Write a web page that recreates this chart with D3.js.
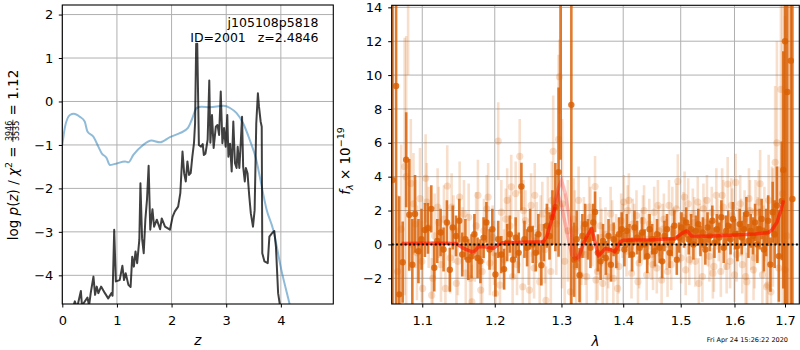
<!DOCTYPE html>
<html>
<head>
<meta charset="utf-8">
<script src="https://cdn.jsdelivr.net/npm/d3@7"></script>
<style>
  body { margin: 0; background: #fff; }
  svg { font-family: "DejaVu Sans", sans-serif; }
  text { white-space: pre; }
</style>
</head>
<body>
<svg id="chart" width="800" height="350"></svg>
<script>
// ---------- redshift panel ----------
const priorZ = [0,0.05,0.14,0.21,0.32,0.41,0.46,0.57,0.66,0.72,0.81,0.87,0.96,1.15,1.21,1.30,1.48,1.63,1.79,1.97,2.15,2.30,2.37,2.46,2.55,2.70,2.95,3.07,3.19,3.31,3.43,3.55,3.65,3.74,3.86,4.01,4.16,4.30];
const priorLogP = [-1.0,-0.58,-0.31,-0.28,-0.35,-0.46,-0.69,-0.81,-1.04,-1.19,-1.30,-1.46,-1.44,-1.38,-1.40,-1.23,-1.00,-0.90,-0.94,-0.82,-0.73,-0.61,-0.42,-0.15,-0.12,-0.13,-0.10,-0.15,-0.27,-0.50,-0.88,-1.34,-1.96,-2.49,-2.95,-3.88,-4.66,-5.40];

const pzZ = [0.18,0.23,0.27,0.34,0.36,0.46,0.49,0.52,0.57,0.60,0.63,0.66,0.71,0.78,0.84,0.90,0.92,0.95,0.98,1.05,1.10,1.13,1.16,1.21,1.25,1.28,1.31,1.34,1.37,1.41,1.43,1.46,1.49,1.52,1.55,1.58,1.61,1.65,1.68,1.73,1.79,1.82,1.88,1.97,2.02,2.06,2.12,2.16,2.20,2.23,2.26,2.29,2.32,2.35,2.38,2.41,2.43,2.45,2.46,2.47,2.50,2.54,2.57,2.59,2.62,2.66,2.69,2.71,2.74,2.77,2.81,2.84,2.87,2.90,2.93,2.96,2.99,3.02,3.04,3.07,3.10,3.13,3.16,3.19,3.21,3.24,3.26,3.29,3.31,3.34,3.36,3.39,3.42,3.45,3.49,3.52,3.55,3.58,3.60,3.63,3.65,3.66,3.70,3.76,3.79,3.84,3.88,3.91,3.95,3.98,4.05];
const pzLogP = [-4.8,-4.6,-4.75,-4.36,-4.7,-4.51,-4.7,-4.41,-4.03,-4.45,-4.26,-4.41,-4.26,-4.41,-4.53,-4.41,-4.47,-2.95,-4.14,-4.11,-3.78,-4.11,-3.95,-4.22,-4.27,-3.57,-3.80,-3.45,-3.72,-3.18,-1.88,-3.15,-3.49,-2.72,-2.26,-1.48,-2.95,-2.48,-2.88,-2.72,-2.94,-2.69,-2.88,-2.95,-2.65,-2.53,-2.42,-2.11,-1.15,-1.65,-1.84,-1.38,-1.69,-1.65,-1.27,-0.96,-0.5,1.33,0.7,1.33,-1.0,-1.04,-0.98,-1.23,-1.2,-0.88,0.48,-0.95,-0.31,-1.07,-0.58,-0.54,-0.77,0.23,-0.96,-0.61,-1.04,-0.31,-1.27,-0.97,-1.61,-0.46,-1.42,-1.53,-1.04,-1.53,-1.1,-0.35,-1.50,-1.84,-1.53,-1.65,-2.15,-2.57,-2.88,-2.5,-0.50,0.19,-0.12,-0.46,-0.58,-3.49,-3.68,-3.72,-3.11,-3.03,-2.98,-3.34,-4.41,-4.66,-5.5];

const zTicks = [0,1,2,3,4];
const logPTicks = [-4,-3,-2,-1,0,1,2];
const fitLabel = ["j105108p5818", "ID=2001   z=2.4846"];

// ---------- spectrum panel ----------
const waveTicks = [1.1,1.2,1.3,1.4,1.5,1.6,1.7];
const fluxTicks = [-2,0,2,4,6,8,10,12,14];

// primary extraction (strong)
const specWave = [1.0615,1.0660,1.0700,1.0745,1.0790,1.0830,1.0870,1.0905,1.0950,1.0990,1.1035,1.1075,1.1120,1.1160,1.1200,1.1245,1.1285,1.1330,1.1370,1.1410,1.1455,1.1500,1.1540,1.1585,1.1625,1.1670,1.1710,1.1755,1.1795,1.1840,1.1880,1.1925,1.1965,1.2010,1.2050,1.2095,1.2135,1.2180,1.2220,1.2265,1.2305,1.2350,1.2390,1.2435,1.2475,1.2520,1.2560,1.2605,1.2645,1.2690,1.2730,1.2775,1.2815,1.2860,1.2905,1.2955,1.2985,1.3155,1.3200,1.3240,1.3285,1.3330,1.3375,1.3420,1.3460,1.3505,1.3535,1.3580,1.3625,1.3665,1.3710,1.3755,1.3795,1.3840,1.3885,1.3930,1.3975,1.4020,1.4060,1.4105,1.4150,1.4190,1.4235,1.4280,1.4320,1.4365,1.4410,1.4450,1.4495,1.4540,1.4580,1.4625,1.4670,1.4710,1.4755,1.4800,1.4840,1.4885,1.4930,1.4970,1.5015,1.5060,1.5100,1.5145,1.5190,1.5230,1.5275,1.5320,1.5360,1.5405,1.5450,1.5490,1.5535,1.5580,1.5620,1.5665,1.5710,1.5750,1.5795,1.5840,1.5880,1.5925,1.5970,1.6010,1.6055,1.6100,1.6140,1.6185,1.6230,1.6270,1.6315,1.6360,1.6400,1.6445,1.6490,1.6530,1.6575,1.6620,1.6660,1.6705,1.6750,1.6790,1.6835,1.6875,1.6935,1.6965,1.7000,1.7048,1.7119,1.7152];
const specFlux = [3.8,9.35,-2.95,-1.05,5.0,1.75,-1.2,1.8,-0.4,0.3,0.85,0.95,2.1,-1.38,0.2,0.7,-0.3,1.3,-1.5,1.0,0.5,1.4,-0.6,0.3,-0.9,-0.7,0.6,-0.8,-1.0,0.4,1.3,-0.3,0.9,-1.78,0.3,-0.6,-1.46,0.1,0.6,-0.9,0.4,-0.5,3.42,0.3,-0.2,0.9,0.0,-0.5,0.6,-1.23,0.1,1.1,0.5,1.6,2.2,4.27,18,8.24,-0.9,0.3,-1.82,0.5,1.2,0.3,-0.2,1.3,1.92,-0.5,-1.0,0.2,-0.8,0.5,-1.2,0.3,-0.4,0.6,0.9,-0.3,0.8,0.2,-0.6,1.0,0.4,-0.2,0.7,0.0,-0.7,0.9,0.3,-0.4,0.6,-0.2,-1.0,0.5,0.9,-0.5,0.2,1.1,-0.9,0.4,1.0,0.7,1.3,0.3,0.9,0.0,0.8,1.2,0.2,0.7,-0.3,1.0,0.5,1.4,0.1,0.9,0.4,1.6,-0.2,0.8,1.1,0.3,1.5,0.6,-0.1,1.2,0.4,0.9,1.8,0.2,0.8,0.5,1.3,0.0,0.9,1.5,-0.3,0.7,1.4,-1.19,1.9,0.6,2.3,-0.69,2.57,4.4,12,9.0,10.85,2.68];
const specErr = [20,20,5.8,2.4,2.8,3.3,2.7,2.3,1.9,1.8,1.6,1.5,1.4,1.4,1.3,1.4,1.3,1.3,1.3,1.3,1.2,1.3,1.3,1.2,1.2,1.3,1.2,1.2,1.3,1.2,1.2,1.2,1.2,1.3,1.1,1.1,1.2,1.1,1.1,1.1,1.2,1.2,1.4,1.1,1.1,1.2,1.1,1.1,1.2,1.2,1.1,1.3,1.4,1.6,2.6,5.0,13,14,2.2,1.7,1.6,1.3,1.2,1.2,1.2,1.1,1.2,1.1,1.1,1.0,1.0,1.0,1.0,1.0,1.0,1.0,1.0,1.0,1.0,1.0,1.0,1.0,1.0,0.9,0.9,0.9,1.0,0.9,0.9,0.9,0.9,0.9,1.0,0.9,0.9,0.9,0.9,0.9,0.9,0.9,0.9,0.9,0.9,0.9,0.9,0.9,0.9,0.9,0.9,0.9,0.9,0.9,0.9,0.9,0.9,0.9,0.9,1.0,0.9,0.9,0.9,0.9,1.0,0.9,0.9,0.9,1.0,1.0,1.0,1.0,1.0,1.1,1.1,1.1,1.2,1.2,1.3,1.4,1.5,1.6,1.8,2.0,2.3,2.7,3.5,7,20,20,20,20];

// secondary extractions (faint)
const specWave2 = [1.0680,1.0725,1.0770,1.0790,1.0815,1.0850,1.0885,1.0930,1.0970,1.1005,1.1045,1.1085,1.1125,1.1165,1.1205,1.1250,1.1290,1.1335,1.1375,1.1420,1.1460,1.1505,1.1545,1.1590,1.1630,1.1675,1.1715,1.1760,1.1800,1.1845,1.1885,1.1930,1.1970,1.2010,1.2050,1.2095,1.2135,1.2180,1.2220,1.2260,1.2305,1.2345,1.2365,1.2410,1.2450,1.2495,1.2535,1.2580,1.2620,1.2665,1.2705,1.2745,1.2790,1.2835,1.2872,1.2920,1.2955,1.2968,1.3010,1.3050,1.3100,1.3140,1.3190,1.3230,1.3270,1.3315,1.3355,1.3400,1.3440,1.3490,1.3535,1.3575,1.3620,1.3660,1.3705,1.3750,1.3790,1.3835,1.3880,1.3925,1.3965,1.4010,1.4055,1.4095,1.4140,1.4185,1.4225,1.4270,1.4315,1.4355,1.4400,1.4445,1.4485,1.4530,1.4575,1.4615,1.4660,1.4700,1.4745,1.4790,1.4830,1.4875,1.4920,1.4948,1.5005,1.5050,1.5090,1.5135,1.5180,1.5220,1.5265,1.5310,1.5350,1.5395,1.5440,1.5480,1.5525,1.5570,1.5610,1.5655,1.5700,1.5740,1.5785,1.5830,1.5870,1.5915,1.5960,1.6000,1.6022,1.6065,1.6110,1.6150,1.6195,1.6240,1.6280,1.6325,1.6370,1.6410,1.6455,1.6500,1.6545,1.6585,1.6630,1.6670,1.6715,1.6755,1.6800,1.6835,1.6870,1.6916,1.6950,1.7000,1.7040];
const specFlux2 = [-1.6,0.9,4.6,4.0,15.5,3.6,2.4,-0.5,2.7,-2.6,3.9,1.0,-3.0,0.5,2.2,-1.2,1.5,3.45,-0.8,0.9,-2.3,2.8,0.3,-1.7,1.6,-3.4,-0.2,2.9,-2.7,0.8,2.1,-1.1,0.4,-2.9,6.1,1.9,-0.9,2.6,1.1,-1.9,3.0,0.2,5.2,-2.5,1.4,-0.6,2.3,-1.4,0.7,-2.2,1.8,-0.3,2.0,-1.6,5.5,1.2,6.2,9.9,2.4,-1.0,0.8,-2.8,1.5,-1.3,2.6,-0.5,1.0,-1.9,2.2,0.4,3.42,-1.6,1.1,-2.3,0.6,-1.0,1.8,-2.0,0.2,-1.3,1.4,2.5,-0.4,2.6,-1.7,0.9,1.7,-1.1,0.5,2.0,-1.8,1.2,-0.6,1.9,-1.4,0.8,-2.1,1.5,0.0,2.3,-1.2,0.7,2.1,3.72,-0.8,1.6,-1.5,2.4,0.3,1.8,-1.0,2.5,0.9,-1.9,1.3,2.6,-0.7,1.9,-1.3,2.9,0.5,-1.6,2.2,0.1,3.56,-1.0,1.7,-1.8,3.66,0.6,2.4,-1.2,1.5,-2.2,2.7,0.3,-1.5,1.9,0.9,3.58,-1.8,1.2,-2.5,2.6,-2.8,1.0,4.85,6.0,-1.4,9.15,3.0,-1.5,0.5];
const specErr2 = [4.5,5.0,7.6,8.3,5.5,3.8,3.0,2.8,3.0,2.5,2.6,2.4,2.2,2.5,2.3,2.2,2.0,2.4,2.1,2.0,2.0,2.1,1.9,2.0,2.0,2.2,2.0,2.1,2.0,1.9,2.0,1.9,1.9,2.0,2.3,1.9,1.8,1.9,1.8,1.8,1.9,1.8,2.2,1.9,1.8,1.8,1.9,1.8,1.8,1.9,1.9,2.0,2.0,2.2,3.3,3.0,5.0,2.2,5.0,4.0,3.0,2.6,2.4,2.2,2.0,1.9,1.8,1.8,1.8,1.7,1.8,1.7,1.7,1.7,1.6,1.6,1.6,1.6,1.6,1.6,1.6,1.6,1.5,1.6,1.5,1.5,1.5,1.5,1.5,1.5,1.5,1.5,1.5,1.5,1.5,1.5,1.5,1.5,1.5,1.5,1.5,1.5,1.5,1.6,1.5,1.5,1.5,1.5,1.5,1.5,1.5,1.5,1.5,1.5,1.5,1.5,1.5,1.5,1.5,1.6,1.5,1.5,1.6,1.6,1.6,1.6,1.6,1.6,1.7,1.6,1.7,1.7,1.7,1.7,1.8,1.8,1.8,1.9,1.9,2.0,2.1,2.2,2.4,2.7,3.0,3.5,4.5,6,6,9,12,15,16];

const specWave3 = [1.0910,1.0995,1.1060,1.1140,1.1220,1.1310,1.1395,1.1480,1.1565,1.1650,1.1735,1.1820,1.1905,1.1990,1.2075,1.2160,1.2240,1.2325,1.2420,1.2510,1.2590,1.2680,1.2760,1.2850,1.3210,1.3300,1.3380,1.3460,1.3550,1.3640,1.3730,1.3815,1.3905,1.3990,1.4075,1.4160,1.4250,1.4335,1.4420,1.4510,1.4595,1.4680,1.4765,1.4850,1.4985,1.5070,1.5155,1.5245,1.5330,1.5415,1.5500,1.5590,1.5675,1.5765,1.5850,1.5940,1.6040,1.6130,1.6215,1.6300,1.6390,1.6475,1.6565,1.6650,1.6735];
const specFlux3 = [1.2,-1.0,2.5,-2.0,1.3,-2.6,2.2,-1.0,1.8,-2.0,1.1,-1.6,2.8,-0.5,-2.4,1.5,3.4,-1.2,2.0,-2.7,2.9,1.0,-3.3,2.6,0.9,-1.8,-0.6,1.6,-2.1,0.4,-1.9,1.0,-2.6,0.8,2.0,1.2,-2.2,1.4,0.3,-1.2,2.3,0.9,-1.6,1.9,0.4,2.8,-0.9,1.3,-2.3,2.1,0.2,-1.7,1.2,2.9,-1.3,2.3,-0.6,1.0,-1.9,2.0,-0.8,2.5,0.3,-2.4,1.8];
const specErr3 = [2.6,2.4,2.3,2.2,2.1,2.1,2.0,2.0,2.0,2.0,2.0,1.9,2.0,1.9,1.9,1.8,1.9,1.8,1.8,1.9,1.9,1.9,2.0,2.3,2.3,2.0,1.8,1.8,1.7,1.7,1.6,1.6,1.6,1.6,1.5,1.5,1.5,1.5,1.5,1.5,1.5,1.5,1.5,1.5,1.5,1.5,1.5,1.5,1.5,1.5,1.5,1.5,1.5,1.6,1.6,1.6,1.6,1.7,1.7,1.8,1.8,1.9,2.0,2.3,2.8];

const modelWave = [1.073,1.100,1.130,1.146,1.155,1.167,1.172,1.177,1.186,1.198,1.205,1.212,1.240,1.272,1.277,1.285,1.290,1.295,1.300,1.306,1.312,1.316,1.321,1.327,1.3346,1.340,1.348,1.3535,1.359,1.370,1.378,1.386,1.395,1.400,1.450,1.490,1.502,1.511,1.520,1.550,1.600,1.640,1.6665,1.6733,1.6835,1.6916,1.6969];
const modelFlux = [0.06,0.07,0.07,0.05,-0.22,-0.43,-0.38,-0.12,-0.14,-0.24,-0.02,0.10,0.12,0.16,0.45,1.45,2.2,2.9,2.3,1.2,0.1,-0.6,-0.85,-0.75,0.06,0.45,0.95,0.1,-0.69,-0.24,-0.3,-0.43,0.15,0.25,0.28,0.35,0.65,0.8,0.5,0.48,0.55,0.62,0.7,0.85,1.3,2.0,2.6];
const modelFluxAlt = [0.06,0.07,0.07,0.05,-0.22,-0.43,-0.38,-0.12,-0.14,-0.24,-0.02,0.10,0.12,0.16,0.45,1.6,2.6,3.3,3.8,3.0,1.6,0.5,-0.55,-0.85,0.06,0.45,0.95,0.1,-0.69,-0.24,-0.3,-0.43,0.15,0.25,0.28,0.35,0.65,0.8,0.5,0.48,0.55,0.62,0.7,0.85,1.3,2.0,2.6];

const stamp = "Fri Apr 24 15:26:22 2020";

// ---------- drawing ----------
const svg = d3.select("#chart");
const FONT = 13;
const minusFmt = d => (d < 0 ? "\u2212" + Math.abs(d) : String(d));

const boxL = { left: 62.3, right: 333.3, top: 5, bottom: 304 };
const boxR = { left: 391.7, right: 799.3, top: 5.3, bottom: 304 };

const xZ = d3.scaleLinear().domain([0, 4.96]).range([boxL.left, boxL.right]);
const yP = d3.scaleLinear().domain([-4.66, 2.22]).range([boxL.bottom, boxL.top]);
const xW = d3.scaleLog().domain([1.0604, 1.7294]).range([boxR.left, boxR.right]);
const yF = d3.scaleLinear().domain([-3.52, 14.12]).range([boxR.bottom, boxR.top]);

function frame(box, x, y, xt, yt, xfmt, yfmt, id, ypad) {
  const g = svg.append("g");
  g.selectAll(".gx").data(xt).join("line")
    .attr("x1", d => x(d)).attr("x2", d => x(d))
    .attr("y1", box.top).attr("y2", box.bottom)
    .attr("stroke", "#b0b0b0").attr("stroke-width", 1);
  g.selectAll(".gy").data(yt).join("line")
    .attr("x1", box.left).attr("x2", box.right)
    .attr("y1", d => y(d)).attr("y2", d => y(d))
    .attr("stroke", "#b0b0b0").attr("stroke-width", 1);
  const ax = svg.append("g").attr("transform", `translate(0,${box.bottom})`)
    .call(d3.axisBottom(x).tickValues(xt).tickFormat(xfmt).tickSize(3.5).tickPadding(8));
  const ay = svg.append("g").attr("transform", `translate(${box.left},0)`)
    .call(d3.axisLeft(y).tickValues(yt).tickFormat(yfmt).tickSize(3.5).tickPadding(ypad));
  [ax, ay].forEach(a => {
    a.select(".domain").remove();
    a.selectAll("text").attr("font-size", FONT).attr("font-family", "DejaVu Sans").attr("fill", "#000");
    a.selectAll("line").attr("stroke", "#000").attr("stroke-width", 1);
  });
  svg.append("clipPath").attr("id", id).append("rect")
    .attr("x", box.left).attr("y", box.top)
    .attr("width", box.right - box.left).attr("height", box.bottom - box.top);
  return svg.append("g").attr("clip-path", `url(#${id})`);
}
function border(box) {
  svg.append("rect").attr("x", box.left).attr("y", box.top)
    .attr("width", box.right - box.left).attr("height", box.bottom - box.top)
    .attr("fill", "none").attr("stroke", "#000").attr("stroke-width", 1.1);
}

// left panel
const pL = frame(boxL, xZ, yP, zTicks, logPTicks, d => String(d), minusFmt, "clipL", 5.5);
pL.append("path")
  .datum(priorZ.map((z, i) => [z, priorLogP[i]]))
  .attr("d", d3.line().x(d => xZ(d[0])).y(d => yP(d[1])).curve(d3.curveMonotoneX))
  .attr("fill", "none").attr("stroke", "#1f77b4").attr("stroke-opacity", 0.5).attr("stroke-width", 2);
pL.append("path")
  .datum(pzZ.map((z, i) => [z, pzLogP[i]]))
  .attr("d", d3.line().x(d => xZ(d[0])).y(d => yP(d[1])))
  .attr("fill", "none").attr("stroke", "#000").attr("stroke-opacity", 0.75)
  .attr("stroke-width", 2).attr("stroke-linejoin", "round");
border(boxL);

svg.selectAll(".fitlab").data(fitLabel).join("text")
  .attr("x", 318.5).attr("y", (d, i) => 27 + i * 14.7)
  .attr("text-anchor", "end").attr("font-size", 12.5).text(d => d);

// right panel
const pR = frame(boxR, xW, yF, waveTicks, fluxTicks, d3.format(".1f"), minusFmt, "clipR", 6);
const ORANGE = "#d95f02";
function spectrum(g, w, f, e, op, r) {
  const pts = w.map((v, i) => ({ w: v, f: f[i], e: e[i] }));
  g.selectAll(null).data(pts).join("line")
    .attr("x1", d => xW(d.w)).attr("x2", d => xW(d.w))
    .attr("y1", d => yF(d.f - d.e)).attr("y2", d => yF(d.f + d.e))
    .attr("stroke", ORANGE).attr("stroke-opacity", op).attr("stroke-width", 2.6);
  g.selectAll(null).data(pts).join("circle")
    .attr("cx", d => xW(d.w)).attr("cy", d => yF(d.f)).attr("r", r)
    .attr("fill", ORANGE).attr("fill-opacity", op);
}
spectrum(pR, specWave2, specFlux2, specErr2, 0.2, 3.6);
spectrum(pR, specWave3, specFlux3, specErr3, 0.2, 3.6);
spectrum(pR, specWave, specFlux, specErr, 0.82, 3.2);

const mPts = modelWave.map((w, i) => ({ w, f: modelFlux[i], a: modelFluxAlt[i] }));
const inGap = d => d.w > 1.291 && d.w < 1.333;
const nearGap = d => d.w >= 1.284 && d.w <= 1.336;
pR.append("path").datum(mPts)
  .attr("d", d3.line().defined(nearGap).x(d => xW(d.w)).y(d => yF(d.a)))
  .attr("fill", "none").attr("stroke", "#ff0000").attr("stroke-opacity", 0.25).attr("stroke-width", 3.5);
pR.append("path").datum(mPts)
  .attr("d", d3.line().defined(nearGap).x(d => xW(d.w)).y(d => yF(d.f)))
  .attr("fill", "none").attr("stroke", "#ff0000").attr("stroke-opacity", 0.25).attr("stroke-width", 3.5);
pR.append("path").datum(mPts)
  .attr("d", d3.line().defined(d => !inGap(d)).x(d => xW(d.w)).y(d => yF(d.f)))
  .attr("fill", "none").attr("stroke", "#ff1500").attr("stroke-opacity", 0.65)
  .attr("stroke-width", 3.5).attr("stroke-linejoin", "round");

pR.append("line")
  .attr("x1", boxR.left).attr("x2", boxR.right)
  .attr("y1", yF(0)).attr("y2", yF(0))
  .attr("stroke", "#000").attr("stroke-width", 2).attr("stroke-dasharray", "2,2.3");
border(boxR);

// axis titles
svg.append("text").attr("x", (boxL.left + boxL.right) / 2).attr("y", 344.5)
  .attr("text-anchor", "middle").attr("font-size", 13.5).attr("font-style", "italic").text("z");
svg.append("text").attr("x", (boxR.left + boxR.right) / 2).attr("y", 345.5)
  .attr("text-anchor", "middle").attr("font-size", 13.5).attr("font-style", "italic").text("\u03bb");
svg.append("text").attr("x", 788).attr("y", 341.7)
  .attr("text-anchor", "end").attr("font-size", 6.5).text(stamp);

// left y title: log p(z) / chi^2 = num/den = 1.12
(function () {
  const g = svg.append("g").attr("transform", "translate(17.5,155) rotate(-90)");
  const a = g.append("text").attr("font-size", 13.5);
  a.append("tspan").text("log ");
  a.append("tspan").attr("font-style", "italic").text("p");
  a.append("tspan").text("(");
  a.append("tspan").attr("font-style", "italic").text("z");
  a.append("tspan").text(") / ");
  a.append("tspan").attr("font-style", "italic").text("\u03c7");
  a.append("tspan").attr("font-size", 9.5).attr("dy", -5.5).text("2");
  a.append("tspan").attr("dy", 5.5).text(" = ");
  const wA = a.node().getComputedTextLength();
  const num = g.append("text").attr("font-size", 8).attr("text-anchor", "middle").attr("y", -6).text("3946");
  const den = g.append("text").attr("font-size", 8).attr("text-anchor", "middle").attr("y", 1.5).text("3535");
  const wF = Math.max(num.node().getComputedTextLength(), den.node().getComputedTextLength()) + 2;
  const b = g.append("text").attr("font-size", 13.5).text(" = 1.12");
  const wB = b.node().getComputedTextLength();
  const x0 = -(wA + wF + wB) / 2;
  a.attr("x", x0);
  num.attr("x", x0 + wA + wF / 2);
  den.attr("x", x0 + wA + wF / 2);
  g.append("line").attr("x1", x0 + wA).attr("x2", x0 + wA + wF)
    .attr("y1", -4.6).attr("y2", -4.6).attr("stroke", "#000").attr("stroke-width", 0.7);
  b.attr("x", x0 + wA + wF);
})();

// right y title: f_lambda x 10^-19
(function () {
  const g = svg.append("g").attr("transform", "translate(349.5,161) rotate(-90)");
  const t = g.append("text").attr("font-size", 13.5);
  t.append("tspan").attr("font-style", "italic").text("f");
  t.append("tspan").attr("font-style", "italic").attr("font-size", 9.5).attr("dy", 3).text("\u03bb");
  t.append("tspan").attr("dy", -3).text(" \u00d7 10");
  t.append("tspan").attr("font-size", 9.5).attr("dy", -5.5).text("\u221219");
  const w = t.node().getComputedTextLength();
  t.attr("x", -w / 2);
})();
</script>
</body>
</html>
